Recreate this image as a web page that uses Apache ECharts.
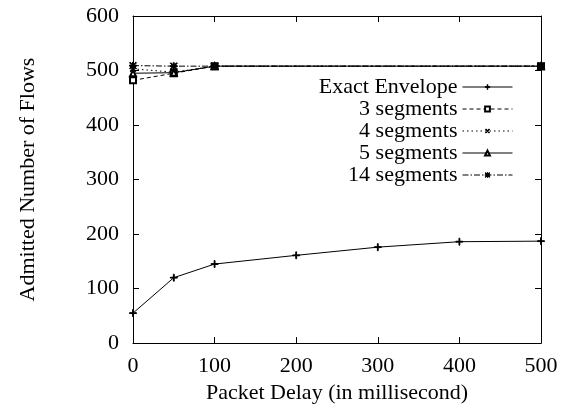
<!DOCTYPE html>
<html>
<head>
<meta charset="utf-8">
<script src="https://cdn.jsdelivr.net/npm/echarts@6/dist/echarts.min.js"></script>
<style>
  html, body { margin: 0; padding: 0; background: #fff; }
  #chart { width: 569px; height: 409px; }
</style>
</head>
<body>
<div id="chart"></div>
<script>
const delays = [0, 50, 100, 200, 300, 400, 500];
const exactEnvelope = [55, 120, 145, 161, 176, 186, 187];

const segDelays = [0, 50, 100, 500];
const seg3 = [482, 495, 508, 508];
const seg4 = [503, 497, 508, 508];
const seg5 = [495, 496, 508, 508];
const seg14 = [509, 508, 508, 508];

const seriesNames = ['Exact Envelope', '3 segments', '4 segments', '5 segments', '14 segments'];

const FONT = 'Liberation Serif';
const plus = 'path://M4.4,0h1.2v10h-1.2zM0,4.4h10v1.2h-10z';
const star = 'path://M4.3,0h1.4v10h-1.4zM0,4.3h10v1.4h-10zM1,0L10,9L9,10L0,1zM9,0L10,1L1,10L0,9z';

const pairs = (xs, ys) => xs.map((x, i) => [x, ys[i]]);

const lineSeries = (name, xs, ys, symbol, dash, extra = {}) => ({
  name,
  type: 'line',
  data: pairs(xs, ys),
  symbol,
  symbolSize: 7,
  showAllSymbol: true,
  lineStyle: { color: '#000', width: 1, type: dash },
  itemStyle: { color: '#000', borderColor: '#000', borderWidth: 1 },
  emphasis: { disabled: true },
  animation: false,
  z: 3,
  ...extra,
});

const legendTops = [76, 98, 120, 142, 164];

const frameAxis = {
  axisLine: { show: true, onZero: false, lineStyle: { color: '#000', width: 1 } },
  axisTick: { show: true, inside: true, length: 6, lineStyle: { color: '#000' } },
  splitLine: { show: false },
};

const chart = echarts.init(document.getElementById('chart'));
chart.setOption({
  backgroundColor: '#fff',
  textStyle: { fontFamily: FONT, color: '#000' },
  grid: { left: 133, right: 28, top: 16, bottom: 58 },
  legend: seriesNames.map((name, i) => ({
    data: [name],
    right: 56,
    top: legendTops[i],
    align: 'right',
    itemWidth: 50,
    itemHeight: 6,
    padding: 0,
    selectedMode: false,
    lineStyle: { width: 1 },
    itemStyle: { borderWidth: 1 },
    textStyle: { fontFamily: FONT, fontSize: 22, color: '#000', lineHeight: 18 },
  })),
  xAxis: [
    {
      type: 'value',
      min: 0,
      max: 500,
      interval: 100,
      name: 'Packet Delay (in millisecond)',
      nameLocation: 'middle',
      nameGap: 30,
      nameTextStyle: { fontFamily: FONT, fontSize: 22, color: '#000' },
      ...frameAxis,
      axisLabel: { fontFamily: FONT, fontSize: 22, color: '#000', margin: 12 },
    },
    {
      type: 'value',
      position: 'top',
      min: 0,
      max: 500,
      interval: 100,
      ...frameAxis,
      axisLabel: { show: false },
    },
  ],
  yAxis: [
    {
      type: 'value',
      min: 0,
      max: 600,
      interval: 100,
      name: 'Admitted Number of Flows',
      nameLocation: 'middle',
      nameGap: 94,
      nameTextStyle: { fontFamily: FONT, fontSize: 22, color: '#000' },
      ...frameAxis,
      axisLabel: { fontFamily: FONT, fontSize: 22, color: '#000', margin: 14 },
    },
    {
      type: 'value',
      position: 'right',
      min: 0,
      max: 600,
      interval: 100,
      ...frameAxis,
      axisLabel: { show: false },
    },
  ],
  series: [
    lineSeries(seriesNames[0], delays, exactEnvelope, plus, 'solid'),
    lineSeries(seriesNames[1], segDelays, seg3, 'emptyRect', [4, 3], { symbolSize: 6 }),
    lineSeries(seriesNames[2], segDelays, seg4, plus, [1.5, 3], { symbolRotate: 45 }),
    lineSeries(seriesNames[3], segDelays, seg5, 'emptyTriangle', 'solid', { symbolSize: 6 }),
    lineSeries(seriesNames[4], segDelays, seg14, star, [6, 2, 1.5, 2]),
  ],
});
</script>
</body>
</html>
